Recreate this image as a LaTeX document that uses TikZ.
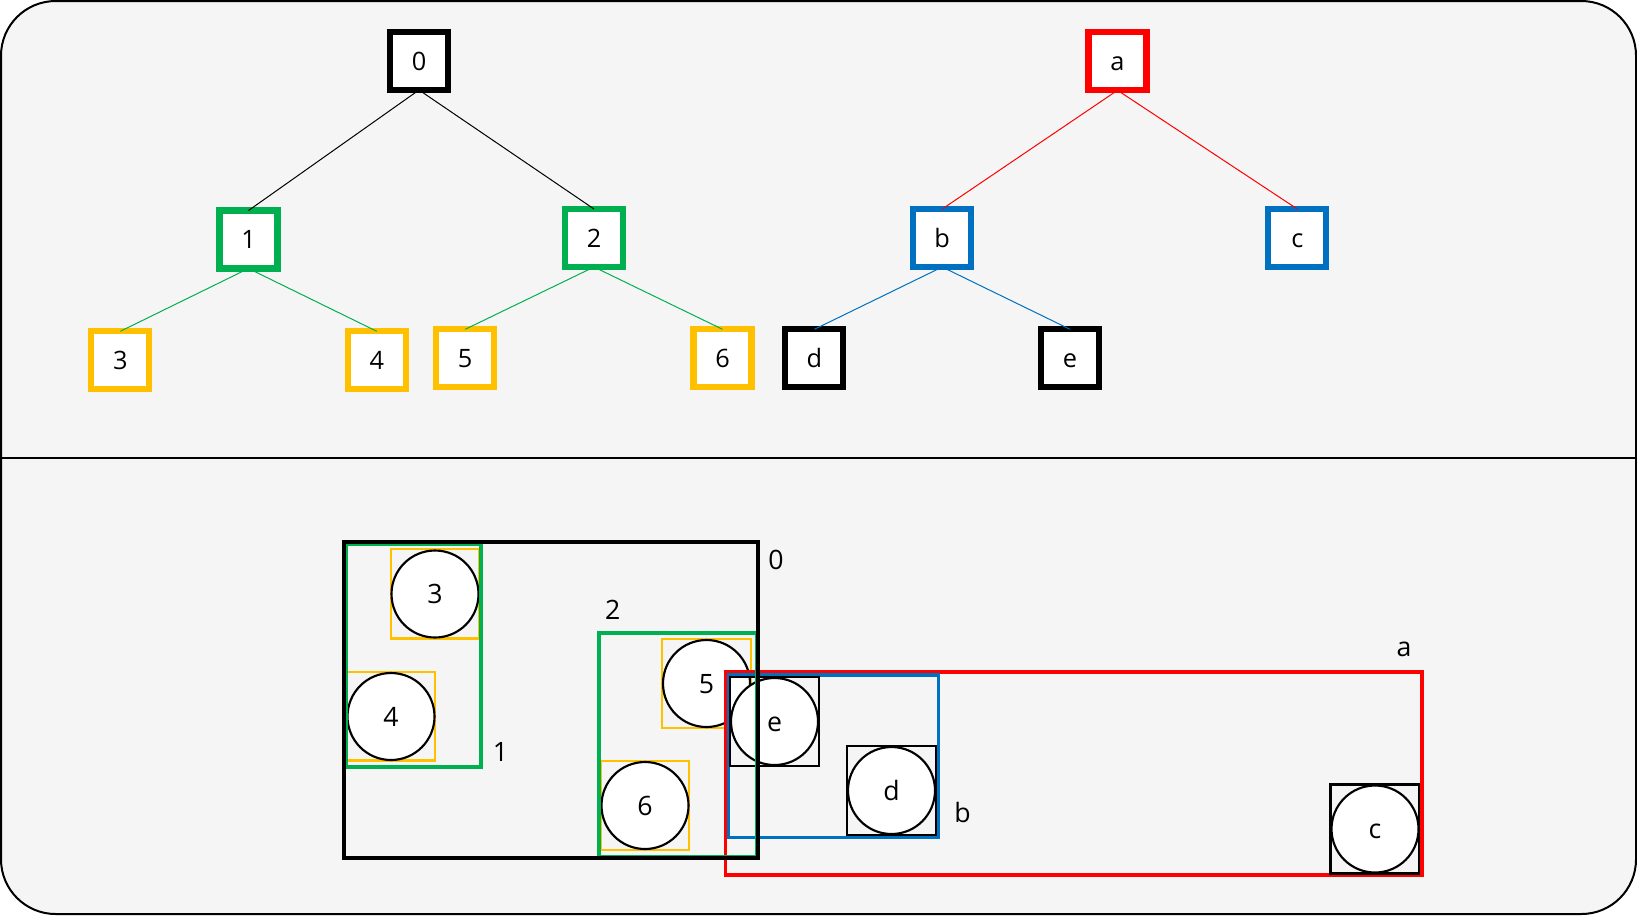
\documentclass[tikz,border=0pt]{standalone}
\usepackage{fontspec}
\setmainfont{Open Sans}
\definecolor{bg}{HTML}{F5F5F5}
\definecolor{tgreen}{HTML}{00B050}
\definecolor{tyellow}{HTML}{FFC000}
\definecolor{tblue}{HTML}{0070C0}
\definecolor{tred}{HTML}{FF0000}
\begin{document}
\begin{tikzpicture}[x=0.75pt,y=-0.75pt,
  tnode/.style={draw=#1,fill=white,line width=4.6pt,minimum size=43.5pt,inner sep=0pt,outer sep=0pt,
    text height=13.6pt,text depth=0pt,font=\fontsize{19}{22}\selectfont},
  tedge/.style={draw=#1,line width=0.75pt},
  rbox/.style={draw=#1,line width=2.6pt},
  sbox/.style={draw=#1,line width=1.6pt},
  ball/.style={circle,draw=black,fill=white,line width=1.6pt,minimum size=65.25pt,inner sep=0pt,
    text height=14.3pt,text depth=0pt,font=\fontsize{20}{24}\selectfont},
  blabel/.style={font=\fontsize{20}{24}\selectfont,inner sep=0pt}]
\useasboundingbox (0,0) rectangle (1637,915);
\draw[fill=bg,line width=1.5pt,rounded corners=41pt] (1,1) rectangle (1636,914);
\coordinate (divL) at (1,458);
\coordinate (divR) at (1636,458);
\draw[line width=1.5pt] (divL) -- (divR);

% ---------- top trees ----------
\node[tnode=black]   (t0) at (419,61) {0};
\node[tnode=tgreen]  (t1) at (248.5,239.5) {1};
\node[tnode=tgreen]  (t2) at (594,238) {2};
\node[tnode=tyellow] (t3) at (120.3,360.3) {3};
\node[tnode=tyellow] (t4) at (376.8,360.3) {4};
\node[tnode=tyellow] (t5) at (465.2,358.3) {5};
\node[tnode=tyellow] (t6) at (722.5,358.3) {6};
\node[tnode=tred]    (ta) at (1117.5,61.3) {a};
\node[tnode=tblue]   (tb) at (942.2,238) {b};
\node[tnode=tblue]   (tc) at (1297.3,238) {c};
\node[tnode=black]   (td) at (814.4,358.3) {d};
\node[tnode=black]   (te) at (1070,358.3) {e};

\draw[tedge=black]  (t0.south) -- (t1.north);
\draw[tedge=black]  (t0.south) -- (t2.north);
\draw[tedge=tgreen] (t1.south) -- (t3.north);
\draw[tedge=tgreen] (t1.south) -- (t4.north);
\draw[tedge=tgreen] (t2.south) -- (t5.north);
\draw[tedge=tgreen] (t2.south) -- (t6.north);
\draw[tedge=tred]   (ta.south) -- (tb.north);
\draw[tedge=tred]   (ta.south) -- (tc.north);
\draw[tedge=tblue]  (tb.south) -- (td.north);
\draw[tedge=tblue]  (tb.south) -- (te.north);

% ---------- bottom nesting ----------
\draw[sbox=tyellow] (391,549) rectangle (479,638.5);
\node[ball] (b3) at (435,594) {3};
\draw[sbox=tyellow] (347,672) rectangle (435,760.5);
\node[ball] (b4) at (391,716.5) {4};
\draw[sbox=tyellow] (662,639) rectangle (751,728);
\node[ball] (b5) at (706.5,683.5) {5};
\draw[sbox=tyellow] (601,761) rectangle (689,850);
\node[ball] (b6) at (645,805.5) {6};

\draw[rbox=tred]  (725.5,672) rectangle (1422,875);
\draw[rbox=tblue] (728.5,675) rectangle (938.5,837.5);
\draw[sbox=black] (730,677) rectangle (819,766);
\node[ball] (be) at (774.5,721.5) {e};
\draw[sbox=black] (847,746) rectangle (936,835);
\node[ball] (bd) at (891.5,790.5) {d};
\draw[sbox=black] (1330.5,784.5) rectangle (1419,873.5);
\node[ball] (bc) at (1375,829) {c};

\draw[rbox=tgreen] (346,544) rectangle (481,767);
\draw[rbox=tgreen] (599,633) rectangle (757,857);
\draw[rbox=black]  (344,542) rectangle (758,858);

\node[blabel] (l0) at (776,560) {0};
\node[blabel] (l1) at (500.5,752) {1};
\node[blabel] (l2) at (612.7,610) {2};
\node[blabel] (la) at (1404,649) {a};
\node[blabel] (lb) at (962.6,812) {b};
\end{tikzpicture}
\end{document}
